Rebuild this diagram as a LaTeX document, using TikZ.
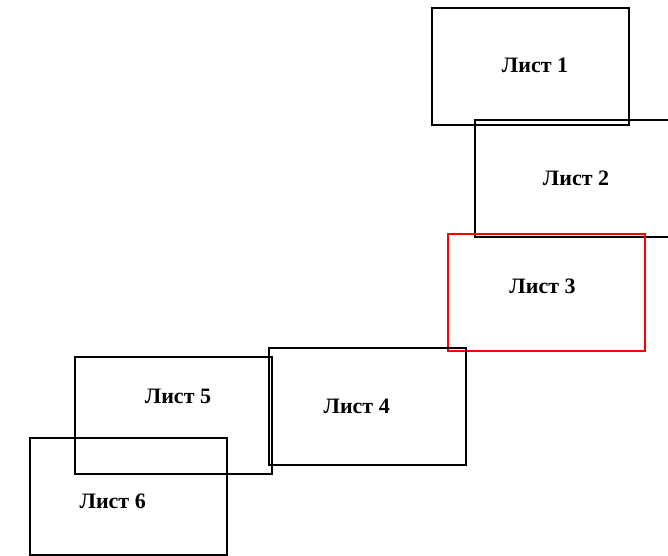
\documentclass[tikz,border=0pt]{standalone}
\usepackage{fontspec}
\setmainfont{Liberation Serif}
\begin{document}
\begin{tikzpicture}[x=1pt,y=-1pt,
  sheet/.style={draw=black,line width=1.8pt,minimum width=197pt,minimum height=117pt,inner sep=0pt,outer sep=0pt},
  redsheet/.style={sheet,draw=red},
  lbl/.style={font=\fontsize{22}{26}\selectfont\bfseries,inner sep=0pt}]
\useasboundingbox (0,0) rectangle (668,555);
\clip (0,0) rectangle (668,555);
\node[sheet] (b1) at (530.5,66.5) {};
\node[sheet] (b2) at (573.5,178.5) {};
\node[redsheet] (b3) at (546.5,292.5) {};
\node[sheet] (b4) at (367.5,406.5) {};
\node[sheet] (b5) at (173.5,415.5) {};
\node[sheet] (b6) at (128.5,496.5) {};
\node[lbl] (t1) at (535,65.5) {Лист 1};
\node[lbl] (t2) at (576,178.5) {Лист 2};
\node[lbl] (t3) at (542.5,286.5) {Лист 3};
\node[lbl] (t4) at (356.7,406) {Лист 4};
\node[lbl] (t5) at (178,396.5) {Лист 5};
\node[lbl] (t6) at (112.7,501.5) {Лист 6};
\end{tikzpicture}
\end{document}
